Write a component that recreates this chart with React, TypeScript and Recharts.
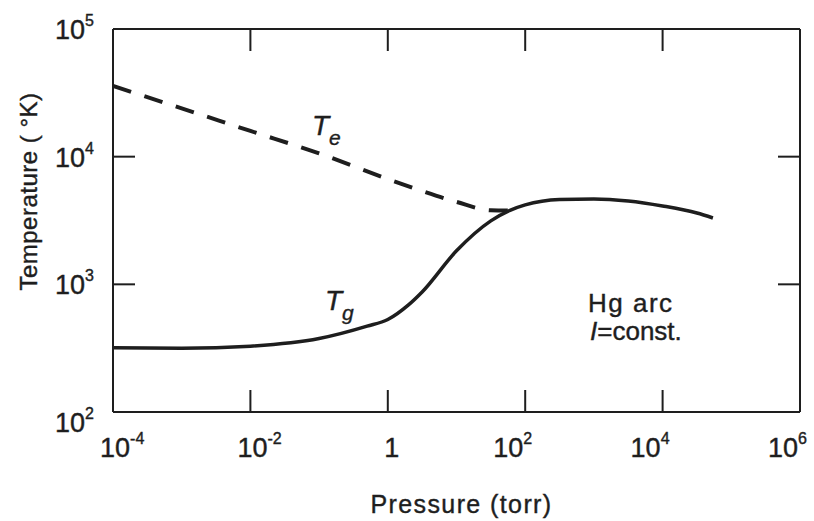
import { Line, LineChart, XAxis, YAxis } from 'recharts';

const xTicks = [1e-4, 1e-2, 1, 1e2, 1e4, 1e6];
const yTicks = [1e2, 1e3, 1e4, 1e5];

// electron temperature (dashed)
const tePressure = [1e-4, 1e-3, 1e-2, 1e-1, 1, 3.16, 10, 31.6, 60];
const teTemp = [35800, 23900, 15900, 10600, 6680, 5380, 4420, 3800, 3780];

// gas temperature (solid)
const tgPressure = [1e-4, 1e-3, 1e-2, 1e-1, 0.5, 1, 2, 3.16, 10, 31.6, 60, 100, 316, 1000, 3160, 1e4, 3.16e4, 5.4e4];
const tgTemp = [318, 316, 328, 376, 470, 530, 690, 871, 1830, 3140, 3800, 4190, 4620, 4670, 4500, 4110, 3620, 3310];

const teData = tePressure.map((p, i) => ({ p, t: teTemp[i] }));
const tgData = tgPressure.map((p, i) => ({ p, t: tgTemp[i] }));

const FONT = '"Liberation Sans", Arial, Helvetica, sans-serif';
const INK = '#1e1e1e';
const TICK_LEN = 22;

const textStyle = { fontFamily: FONT, fill: INK, stroke: INK, strokeWidth: 0.4 };

const expOf = (v: number) => Math.round(Math.log10(v));

function PowLabel({ x, y, exp }: { x: number; y: number; exp: number }) {
  return (
    <text x={x} y={y} fontSize={27} textAnchor="start" style={textStyle}>
      <tspan>10</tspan>
      <tspan dy={-13} fontSize={16}>{exp}</tspan>
    </text>
  );
}

function BottomTick(props: any) {
  const { x, y, payload } = props;
  const v = payload.value;
  const exp = expOf(v);
  const inner = v > xTicks[0] && v < xTicks[xTicks.length - 1];
  return (
    <g>
      {inner && <line x1={x} x2={x} y1={y} y2={y - TICK_LEN} stroke={INK} strokeWidth={2} />}
      {exp === 0 ? (
        <text x={x + 4} y={y + 45} fontSize={27} textAnchor="middle" style={textStyle}>1</text>
      ) : (
        <PowLabel x={exp < 0 ? x - 13 : x - 32} y={y + 45} exp={exp} />
      )}
    </g>
  );
}

function TopTick(props: any) {
  const { x, y, payload } = props;
  const v = payload.value;
  if (!(v > xTicks[0] && v < xTicks[xTicks.length - 1])) return <g />;
  return <line x1={x} x2={x} y1={y} y2={y + TICK_LEN} stroke={INK} strokeWidth={2} />;
}

function LeftTick(props: any) {
  const { x, y, payload } = props;
  const v = payload.value;
  const inner = v > yTicks[0] && v < yTicks[yTicks.length - 1];
  return (
    <g>
      {inner && <line x1={x} x2={x + TICK_LEN} y1={y} y2={y} stroke={INK} strokeWidth={2} />}
      <PowLabel x={x - 58} y={y + (v === yTicks[0] ? 20 : 10)} exp={expOf(v)} />
    </g>
  );
}

function RightTick(props: any) {
  const { x, y, payload } = props;
  const v = payload.value;
  if (!(v > yTicks[0] && v < yTicks[yTicks.length - 1])) return <g />;
  return <line x1={x} x2={x - TICK_LEN} y1={y} y2={y} stroke={INK} strokeWidth={2} />;
}

function XTitle(props: any) {
  const vb = props.viewBox || { x: 113, y: 412, width: 687, height: 109 };
  return (
    <text
      x={vb.x + vb.width / 2 + 5}
      y={vb.y + vb.height - 8}
      textAnchor="middle"
      fontSize={25}
      letterSpacing={1.4}
      style={textStyle}
    >
      Pressure (torr)
    </text>
  );
}

function YTitle(props: any) {
  const vb = props.viewBox || { x: 53, y: 29, width: 60, height: 383 };
  const cx = vb.x - 25;
  const cy = vb.y + vb.height / 2 - 29;
  return (
    <text
      transform={`translate(${cx},${cy}) rotate(-90)`}
      textAnchor="middle"
      dominantBaseline="central"
      fontSize={24}
      letterSpacing={0.5}
      style={textStyle}
    >
      Temperature ( °K)
    </text>
  );
}

const axisLine = { stroke: INK, strokeWidth: 2 };

export default function App() {
  return (
    <div style={{ position: 'absolute', left: 0, top: 0, width: 814, height: 521, background: '#fff' }}>
      <LineChart width={814} height={521} margin={{ top: 28, right: 13, bottom: 0, left: 53 }}>
        <XAxis
          xAxisId="b"
          dataKey="p"
          type="number"
          scale="log"
          domain={[1e-4, 1e6]}
          allowDataOverflow
          ticks={xTicks}
          interval={0}
          height={109}
          tickSize={0}
          tickMargin={0}
          axisLine={axisLine}
          tickLine={false}
          tick={(p: any) => <BottomTick {...p} />}
          label={{ content: (p: any) => <XTitle {...p} /> }}
        />
        <XAxis
          xAxisId="t"
          orientation="top"
          dataKey="p"
          type="number"
          scale="log"
          domain={[1e-4, 1e6]}
          allowDataOverflow
          ticks={xTicks}
          interval={0}
          height={1}
          tickSize={0}
          tickMargin={0}
          axisLine={axisLine}
          tickLine={false}
          tick={(p: any) => <TopTick {...p} />}
        />
        <YAxis
          yAxisId="l"
          type="number"
          scale="log"
          domain={[100, 1e5]}
          allowDataOverflow
          ticks={yTicks}
          interval={0}
          width={60}
          tickSize={0}
          tickMargin={0}
          axisLine={axisLine}
          tickLine={false}
          tick={(p: any) => <LeftTick {...p} />}
          label={{ content: (p: any) => <YTitle {...p} /> }}
        />
        <YAxis
          yAxisId="r"
          orientation="right"
          type="number"
          scale="log"
          domain={[100, 1e5]}
          allowDataOverflow
          ticks={yTicks}
          interval={0}
          width={1}
          tickSize={0}
          tickMargin={0}
          axisLine={axisLine}
          tickLine={false}
          tick={(p: any) => <RightTick {...p} />}
        />
        <Line
          xAxisId="b"
          yAxisId="l"
          data={teData}
          dataKey="t"
          type="monotone"
          stroke={INK}
          strokeWidth={4}
          strokeDasharray="19 14"
          dot={false}
          isAnimationActive={false}
        />
        <Line
          xAxisId="b"
          yAxisId="l"
          data={tgData}
          dataKey="t"
          type="monotone"
          stroke={INK}
          strokeWidth={3.5}
          dot={false}
          isAnimationActive={false}
        />
      </LineChart>
      <svg
        width={814}
        height={521}
        style={{ position: 'absolute', left: 0, top: 0, pointerEvents: 'none' }}
      >
        <text x={312} y={135} fontSize={28} fontStyle="italic" style={textStyle}>
          <tspan>T</tspan>
          <tspan dy={10} fontSize={21}>e</tspan>
        </text>
        <text x={325} y={310} fontSize={28} fontStyle="italic" style={textStyle}>
          <tspan>T</tspan>
          <tspan dy={10} fontSize={21}>g</tspan>
        </text>
        <text x={588} y={312} fontSize={26} letterSpacing={1.5} style={textStyle}>
          Hg arc
        </text>
        <text x={590} y={340} fontSize={26} style={textStyle}>
          <tspan fontStyle="italic">I</tspan>
          <tspan>=const.</tspan>
        </text>
      </svg>
    </div>
  );
}
